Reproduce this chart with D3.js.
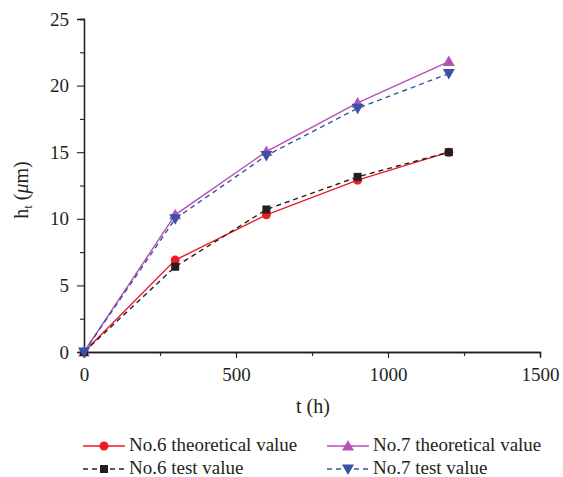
<!DOCTYPE html>
<html>
<head>
<meta charset="utf-8">
<script src="https://cdn.jsdelivr.net/npm/d3@7"></script>
<style>
  body { margin: 0; background: #fff; }
  text { font-family: "Liberation Serif", "DejaVu Serif", serif; fill: #231f20; }
</style>
</head>
<body>
<svg width="563" height="477"></svg>
<script>
// data
const hours = [0, 300, 600, 900, 1200];
const no6Theory = [0, 6.9, 10.3, 12.9, 15.0];
const no6Test = [0, 6.4, 10.7, 13.15, 15.0];
const no7Theory = [0, 10.3, 15.05, 18.7, 21.8];
const no7Test = [0, 10.0, 14.75, 18.3, 20.9];
const xTicks = [0, 500, 1000, 1500];
const yTicks = [0, 5, 10, 15, 20, 25];

const series = [
    { name: "No.6 theoretical value", values: no6Theory, color: "#ec1c24", dash: null, symbol: "circle" },
    { name: "No.7 theoretical value", values: no7Theory, color: "#b94fb6", dash: null, symbol: "up" },
    { name: "No.6 test value", values: no6Test, color: "#231f20", dash: "5,4", symbol: "square" },
    { name: "No.7 test value", values: no7Test, color: "#3953a4", dash: "5,4", symbol: "down" }
];

const svg = d3.select("svg");
const plotLeft = 84, plotRight = 540, plotTop = 19, plotBottom = 352;

const x = d3.scaleLinear().domain([0, 1500]).range([plotLeft, plotRight]);
const y = d3.scaleLinear().domain([0, 25]).range([plotBottom, plotTop]);

function drawSymbol(g, type, cx, cy, color) {
    if (type === "circle") {
        g.append("circle").attr("cx", cx).attr("cy", cy).attr("r", 4.5).attr("fill", color);
    } else if (type === "square") {
        g.append("rect").attr("x", cx - 4).attr("y", cy - 4).attr("width", 8).attr("height", 8).attr("fill", color);
    } else if (type === "up") {
        g.append("path").attr("d", `M${cx},${cy - 6}L${cx + 6},${cy + 4.5}L${cx - 6},${cy + 4.5}Z`).attr("fill", color);
    } else {
        g.append("path").attr("d", `M${cx},${cy + 6}L${cx + 6},${cy - 4.5}L${cx - 6},${cy - 4.5}Z`).attr("fill", color);
    }
}

// axes
svg.append("g").attr("transform", `translate(0,${plotBottom})`)
    .call(d3.axisBottom(x).tickValues(xTicks).tickSize(6).tickPadding(10).tickFormat(d3.format("d")));
svg.append("g").attr("transform", `translate(0,${plotBottom})`)
    .call(d3.axisBottom(x).tickValues([250, 750, 1250]).tickSize(4).tickFormat(""));
svg.append("g").attr("transform", `translate(${plotLeft},0)`)
    .call(d3.axisLeft(y).tickValues(yTicks).tickSize(7).tickPadding(8).tickFormat(d3.format("d")));
svg.append("g").attr("transform", `translate(${plotLeft},0)`)
    .call(d3.axisLeft(y).tickValues([2.5, 7.5, 12.5, 17.5, 22.5]).tickSize(4).tickFormat(""));

svg.selectAll(".domain").attr("stroke", "#231f20").attr("stroke-width", 1.3);
svg.selectAll(".tick line").attr("stroke", "#231f20").attr("stroke-width", 1.1);
svg.selectAll(".tick text").style("font-size", "19px").style("font-family", "Liberation Serif").attr("fill", "#231f20");

// axis titles
svg.append("text").attr("x", 313).attr("y", 413).attr("text-anchor", "middle")
    .style("font-size", "20px").text("t (h)");
const yt = svg.append("text").attr("transform", `translate(28,190) rotate(-90)`)
    .attr("text-anchor", "middle").style("font-size", "20px");
yt.append("tspan").text("h");
yt.append("tspan").attr("dy", 4).style("font-size", "13px").text("t");
yt.append("tspan").attr("dy", -4).text(" (");
yt.append("tspan").style("font-style", "italic").text("μ");
yt.append("tspan").text("m)");

// lines and markers (test markers last so they sit on top)
const line = d3.line().x((d, i) => x(hours[i])).y(d => y(d));
series.forEach(s => {
    svg.append("path").datum(s.values).attr("d", line)
        .attr("fill", "none").attr("stroke", s.color).attr("stroke-width", 1.4)
        .attr("stroke-dasharray", s.dash);
});
series.forEach(s => {
    const g = svg.append("g");
    s.values.forEach((v, i) => drawSymbol(g, s.symbol, x(hours[i]), y(v), s.color));
});

// legend
const legendPos = [[83, 446], [327, 446], [83, 469], [327, 469]];
series.forEach((s, i) => {
    const [lx, ly] = legendPos[i];
    const g = svg.append("g");
    g.append("line").attr("x1", lx).attr("x2", lx + 42).attr("y1", ly).attr("y2", ly)
        .attr("stroke", s.color).attr("stroke-width", 1.4).attr("stroke-dasharray", s.dash);
    drawSymbol(g, s.symbol, lx + 21, ly, s.color);
    g.append("text").attr("x", lx + 46).attr("y", ly + 5).style("font-size", "19px").text(s.name);
});
</script>
</body>
</html>
